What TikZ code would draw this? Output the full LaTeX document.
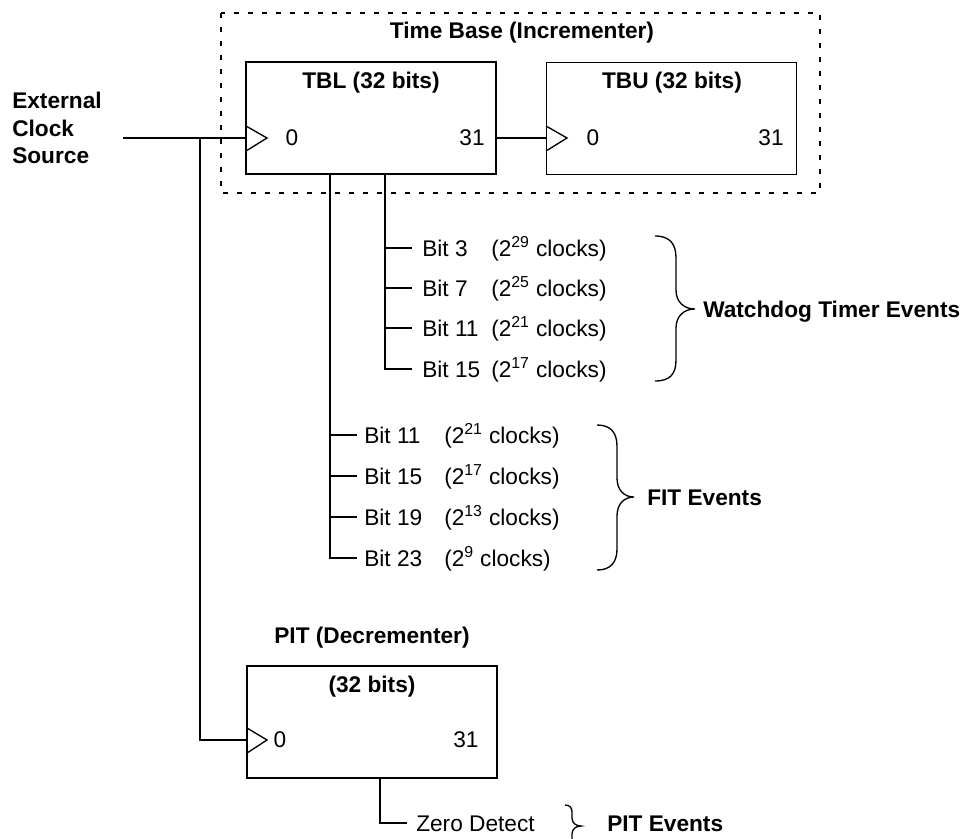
\documentclass[tikz,border=0pt]{standalone}
\usepackage{fontspec}
\setmainfont{Liberation Sans}
\usetikzlibrary{calc}
\tikzset{
  box/.style={draw, line width=1pt, minimum width=187.5pt, minimum height=84pt, inner sep=0pt},
  wire/.style={line width=1pt},
  frame/.style={line width=1pt, dash pattern=on 4pt off 6.5pt},
  ttl/.style={font=\fontsize{17}{20}\selectfont\bfseries, inner sep=0pt},
  num/.style={font=\fontsize{17}{20}\selectfont, inner sep=0pt},
  lbl/.style={font=\fontsize{17}{20}\selectfont, inner sep=0pt, anchor=base west},
  blbl/.style={font=\fontsize{17}{20}\selectfont\bfseries, inner sep=0pt, anchor=base west},
  brc/.style={line width=1pt}
}
\begin{document}
\begin{tikzpicture}[x=0.75pt,y=-0.75pt]
\useasboundingbox (0,0) rectangle (965,839);
\clip (0,0) rectangle (965,839);

% dashed time base frame
\draw[frame] (221,13) rectangle (820,193);
\node[ttl] (tbtitle) at (522,33) {Time Base (Incrementer)};

% boxes
\node[box] (tbl) at (371,118) {};
\node[box] (tbu) at (671.5,118.5) {};
\node[box] (pit) at (372,722) {};

\node[ttl] (tbltitle) at (371,83) {TBL (32 bits)};
\node[ttl] (tbutitle) at (672,83) {TBU (32 bits)};
\node[ttl] (pittitle) at (372,687) {(32 bits)};
\node[ttl] (pitlabel) at (372,638) {PIT (Decrementer)};

\node[num] (tbl0) at (292,138) {0};
\node[num] (tbl31) at (472,138) {31};
\node[num] (tbu0) at (593,138) {0};
\node[num] (tbu31) at (771,138) {31};
\node[num] (pit0) at (280,740) {0};
\node[num] (pit31) at (466,740) {31};

% clock triangles
\draw[wire] (246,126) -- (267,138) -- (246,151);
\draw[wire] (546,126) -- (567,138) -- (546,151);
\draw[wire] (247,728) -- (267,740) -- (247,753);

% external clock
\node[blbl] (ext1) at (12,108) {External};
\node[blbl] (ext2) at (12,136) {Clock};
\node[blbl] (ext3) at (12,163) {Source};

\coordinate (clk) at (123,138);
\coordinate (tblin) at (246,138);
\coordinate (j1) at (200,138);
\coordinate (j2) at (200,740);
\coordinate (pitin) at (247,740);
\coordinate (tblout) at (496,138);
\coordinate (tbuin) at (546,138);

\draw[wire] (clk) -- (tblin);
\draw[wire] (j1) -- (j2) -- (pitin);
\draw[wire] (tblout) -- (tbuin);

% watchdog taps
\coordinate (wdtop) at (385,174);
\coordinate (wd1) at (385,248);
\coordinate (wd2) at (385,288);
\coordinate (wd3) at (385,328);
\coordinate (wd4) at (385,369);
\coordinate (wd1e) at (412,248);
\coordinate (wd2e) at (412,288);
\coordinate (wd3e) at (412,328);
\coordinate (wd4e) at (412,369);
\draw[wire] (wdtop) -- (wd4) -- (wd4e);
\draw[wire] (wd1) -- (wd1e);
\draw[wire] (wd2) -- (wd2e);
\draw[wire] (wd3) -- (wd3e);

\node[lbl] (wdb1) at (422,256) {Bit 3};
\node[lbl] (wdb2) at (422,296) {Bit 7};
\node[lbl] (wdb3) at (422,336) {Bit 11};
\node[lbl] (wdb4) at (422,377) {Bit 15};
\node[lbl] (wdc1) at (491,256) {(2\textsuperscript{29} clocks)};
\node[lbl] (wdc2) at (491,296) {(2\textsuperscript{25} clocks)};
\node[lbl] (wdc3) at (491,336) {(2\textsuperscript{21} clocks)};
\node[lbl] (wdc4) at (491,377) {(2\textsuperscript{17} clocks)};

% FIT taps
\coordinate (fittop) at (330,174);
\coordinate (fit1) at (330,435);
\coordinate (fit2) at (330,476);
\coordinate (fit3) at (330,517);
\coordinate (fit4) at (330,558);
\coordinate (fit1e) at (357,435);
\coordinate (fit2e) at (357,476);
\coordinate (fit3e) at (357,517);
\coordinate (fit4e) at (357,558);
\draw[wire] (fittop) -- (fit4) -- (fit4e);
\draw[wire] (fit1) -- (fit1e);
\draw[wire] (fit2) -- (fit2e);
\draw[wire] (fit3) -- (fit3e);

\node[lbl] (fb1) at (364,443) {Bit 11};
\node[lbl] (fb2) at (364,484) {Bit 15};
\node[lbl] (fb3) at (364,525) {Bit 19};
\node[lbl] (fb4) at (364,566) {Bit 23};
\node[lbl] (fc1) at (444,443) {(2\textsuperscript{21} clocks)};
\node[lbl] (fc2) at (444,484) {(2\textsuperscript{17} clocks)};
\node[lbl] (fc3) at (444,525) {(2\textsuperscript{13} clocks)};
\node[lbl] (fc4) at (444,566) {(2\textsuperscript{9} clocks)};

% PIT tap
\coordinate (pitbot) at (380,777);
\coordinate (zd) at (380,823);
\coordinate (zde) at (407,823);
\draw[wire] (pitbot) -- (zd) -- (zde);
\node[lbl] (zdt) at (416,831) {Zero Detect};

% braces
\draw[brc] (655,236) .. controls (670,236) and (676,244) .. (676,258) -- (676,290)
  .. controls (676,302) and (684,309) .. (695,309)
  .. controls (684,309) and (676,316) .. (676,328) -- (676,360)
  .. controls (676,374) and (670,381) .. (655,381);
\node[blbl] (wdev) at (703,317) {Watchdog Timer Events};

\draw[brc] (597,425) .. controls (610,425) and (617,432) .. (617,446) -- (617,478)
  .. controls (617,490) and (624,497) .. (634,497)
  .. controls (624,497) and (617,504) .. (617,516) -- (617,549)
  .. controls (617,563) and (610,570) .. (597,570);
\node[blbl] (fitev) at (647,505) {FIT Events};

\draw[brc] (565,805) .. controls (570,805) and (572,808) .. (572,812) -- (572,818)
  .. controls (572,823) and (576,826) .. (581,826)
  .. controls (576,826) and (572,829) .. (572,834) -- (572,840)
  .. controls (572,844) and (570,847) .. (565,847);
\node[blbl] (pitev) at (607,831) {PIT Events};
\end{tikzpicture}
\end{document}
